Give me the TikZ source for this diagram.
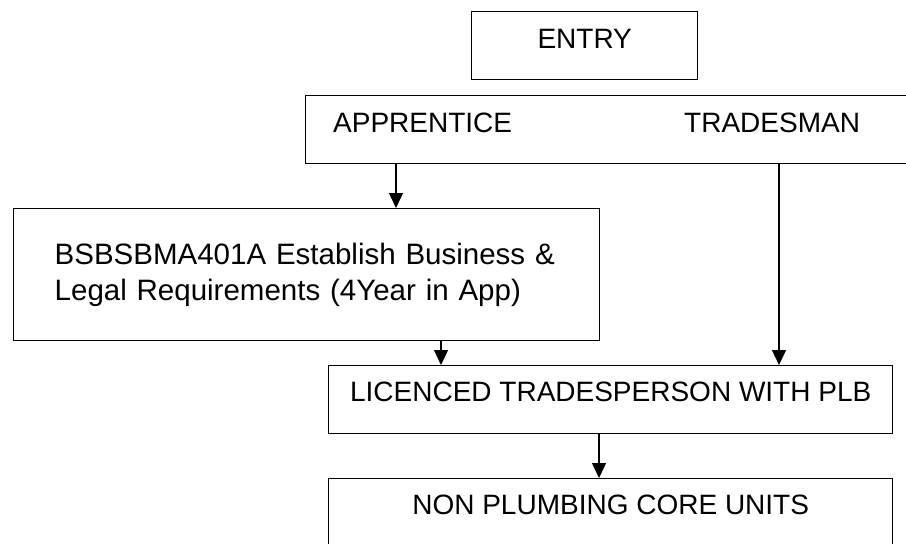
\documentclass[tikz,border=0pt]{standalone}
\usepackage{fontspec}
\setmainfont{Liberation Sans}
\usetikzlibrary{arrows.meta}
\begin{document}
\begin{tikzpicture}[x=1pt,y=1pt,
    box/.style={draw,line width=1.4pt,inner sep=0pt,anchor=north west},
    flow/.style={line width=1.3pt,-{Triangle[length=15pt,width=14pt]}}]
  \fontsize{28}{36}\selectfont
  \useasboundingbox (0,0) rectangle (906,-544);
  \node[box,minimum width=226pt,text height=37pt,text depth=31pt] (entry) at (471,-11) {ENTRY};
  \node[box,minimum width=606pt,minimum height=68pt] (route) at (305,-95) {};
  \node[anchor=base west,inner sep=0pt] (apprentice) at (333,-132) {APPRENTICE};
  \node[anchor=base west,inner sep=0pt] (tradesman) at (684,-132) {TRADESMAN};
  \node[box,minimum height=132pt,inner xsep=41pt,text width=504pt,align=left,
        font=\fontsize{29.5}{36}\selectfont] (bsbs) at (13,-208)
    {BSBSBMA401A Establish Business \&\\Legal Requirements (4Year in App)};
  \node[box,minimum width=564pt,text height=36pt,text depth=32pt] (licenced) at (328,-365) {LICENCED TRADESPERSON WITH PLB};
  \node[box,minimum width=564pt,text height=36pt,text depth=50pt] (nonplumbing) at (328,-478) {NON PLUMBING CORE UNITS};
  % arrow columns
  \coordinate (appx) at (396,0);
  \coordinate (trdx) at (779,0);
  \coordinate (bsbx) at (441,0);
  \coordinate (licx) at (599,0);
  \draw[flow] (route.south -| appx) -- (bsbs.north -| appx);
  \draw[flow] (route.south -| trdx) -- (licenced.north -| trdx);
  \draw[flow] (bsbs.south -| bsbx) -- (licenced.north -| bsbx);
  \draw[flow] (licenced.south -| licx) -- (nonplumbing.north -| licx);
\end{tikzpicture}
\end{document}
